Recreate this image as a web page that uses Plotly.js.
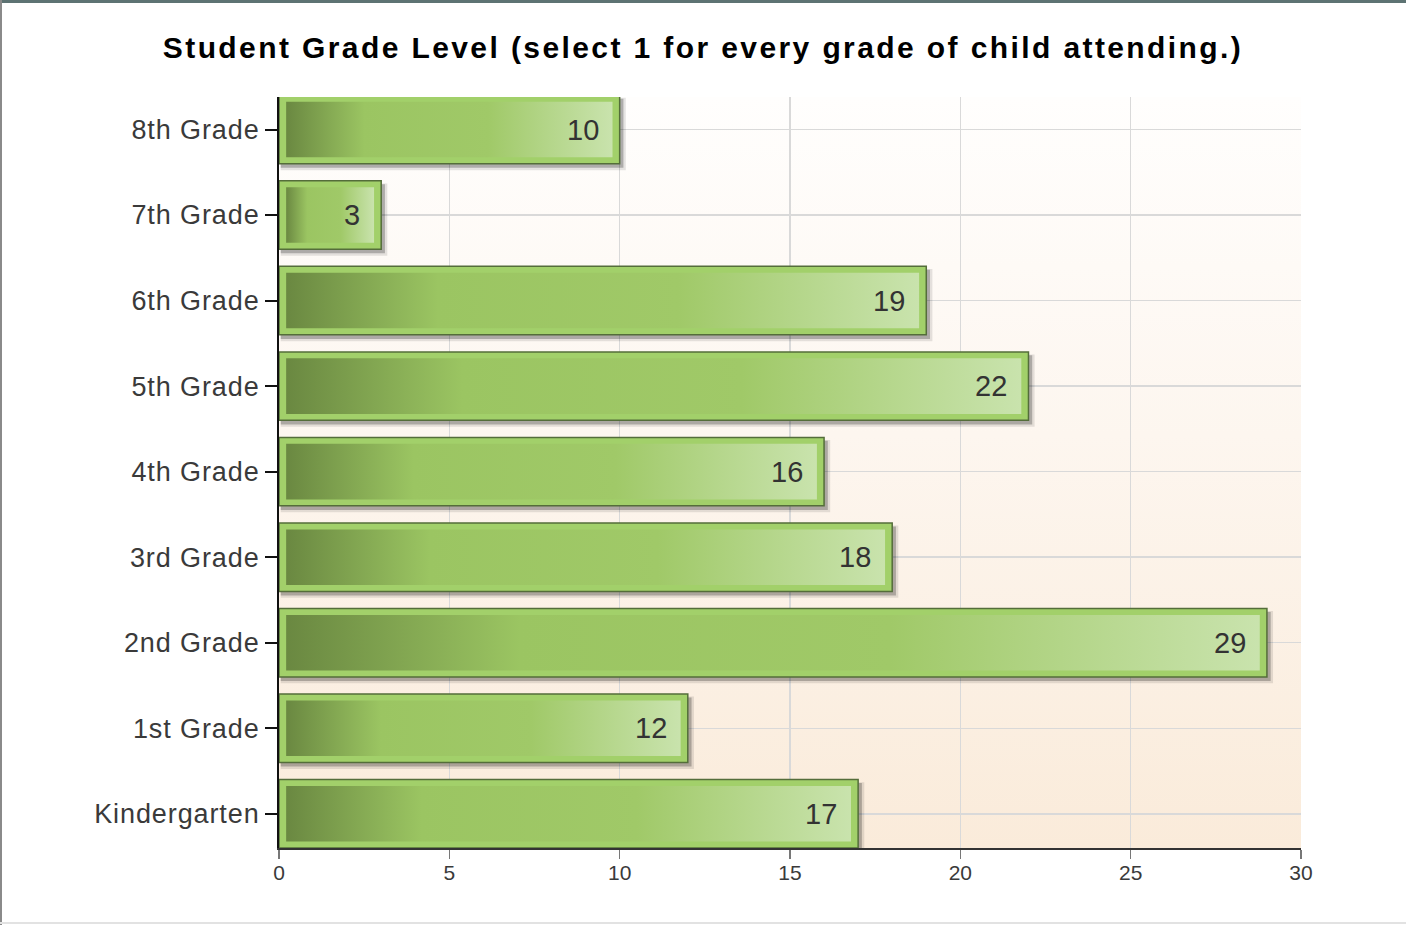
<!DOCTYPE html>
<html>
<head>
<meta charset="utf-8">
<script src="https://cdn.plot.ly/plotly-3.0.1.min.js"></script>
<style>
  html, body { margin: 0; padding: 0; background: #ffffff; }
  #wrap { position: relative; width: 1406px; height: 925px; overflow: hidden; background: #ffffff; }
  #bg { position: absolute; left: 279px; top: 97px; width: 1022px; height: 751px;
        background: linear-gradient(to bottom, #fffefd 0%, #fdf6ef 45%, #faebda 100%); }
  #chart { position: absolute; left: 0; top: 0; width: 1406px; height: 925px; }
  #chart .gtitle { letter-spacing: 2.4px; }
  #chart .ytick text { letter-spacing: 0.9px; }
  .bt { position: absolute; left: 0; top: 0; width: 1406px; height: 3px; background: #5d7373; }
  .bl { position: absolute; left: 0; top: 0; width: 2px; height: 925px; background: #8a8a8a; }
  .bb { position: absolute; left: 0; top: 922px; width: 1406px; height: 2px; background: #e2e2e2; }
</style>
</head>
<body>
<div id="wrap">
  <div id="bg"></div>
  <div id="chart"></div>
  <div class="bt"></div>
  <div class="bl"></div>
  <div class="bb"></div>
</div>
<script>
// ---- data (bottom to top) ----
const categories = ["Kindergarten", "1st Grade", "2nd Grade", "3rd Grade", "4th Grade",
                    "5th Grade", "6th Grade", "7th Grade", "8th Grade"];
const counts = [17, 12, 29, 18, 16, 22, 19, 3, 10];
const xTickValues = [0, 5, 10, 15, 20, 25, 30];
const chartTitle = "Student Grade Level (select 1 for every grade of child attending.)";

// ---- styling constants ----
const barWidth = 0.8;
const insetX = 0.21;   // inner gradient inset (x units)
const insetY = 0.075;  // inner gradient inset (y units)
const idx = categories.map((c, i) => i);

const traces = [];

// outer bar (light rim + dark outline)
traces.push({
  type: "bar",
  orientation: "h",
  x: counts,
  y: idx,
  width: barWidth,
  marker: { color: "#a2d06a", line: { color: "#546d3a", width: 1.5 } },
  hoverinfo: "skip",
  showlegend: false
});

// inner gradient panels
counts.forEach((v, i) => {
  const x0 = insetX, x1 = v - insetX;
  const y0 = i - barWidth / 2 + insetY, y1 = i + barWidth / 2 - insetY;
  traces.push({
    type: "scatter",
    mode: "lines",
    x: [x0, x1, x1, x0, x0],
    y: [y0, y0, y1, y1, y0],
    fill: "toself",
    line: { width: 0, color: "rgba(0,0,0,0)" },
    fillgradient: {
      type: "horizontal",
      colorscale: [[0, "#6a8841"], [0.24, "#9bc562"], [0.62, "#a0c968"], [1, "#c9e3ad"]]
    },
    hoverinfo: "skip",
    showlegend: false
  });
});

// drop shadows (between grid and traces)
const shapes = [];
counts.forEach((v, i) => {
  shapes.push({
    type: "rect", layer: "between", xref: "x", yref: "y",
    x0: 0.05, x1: v + 0.18, y0: i - barWidth / 2 - 0.075, y1: i + barWidth / 2 - 0.03,
    fillcolor: "rgba(0,0,0,0.10)", line: { width: 0 }
  });
  shapes.push({
    type: "rect", layer: "between", xref: "x", yref: "y",
    x0: 0.05, x1: v + 0.11, y0: i - barWidth / 2 - 0.048, y1: i + barWidth / 2 - 0.04,
    fillcolor: "rgba(0,0,0,0.24)", line: { width: 0 }
  });
});

// value labels
const annotations = counts.map((v, i) => ({
  x: v, y: i, xref: "x", yref: "y",
  text: String(v), showarrow: false,
  xanchor: "right", yanchor: "middle", xshift: -19,
  font: { family: "Liberation Sans, Arial, sans-serif", size: 29, color: "#333333" }
}));

const layout = {
  width: 1406, height: 925,
  margin: { l: 279, r: 105, t: 97, b: 77 },
  paper_bgcolor: "rgba(0,0,0,0)",
  plot_bgcolor: "rgba(0,0,0,0)",
  title: {
    text: chartTitle,
    x: 0.5, xref: "container", xanchor: "center",
    y: 1 - 47 / 925, yref: "container", yanchor: "middle",
    font: { family: "Liberation Sans, Arial, sans-serif", size: 30, color: "#000000", weight: "bold" }
  },
  xaxis: {
    range: [0, 30],
    tickvals: xTickValues,
    ticktext: xTickValues.map(String),
    showgrid: true, gridcolor: "#d9d9d9", gridwidth: 1.5,
    zeroline: false,
    showline: true, linecolor: "#333333", linewidth: 2,
    ticks: "outside", ticklen: 9, tickwidth: 1.5, tickcolor: "#777777",
    ticklabelstandoff: -4,
    tickfont: { family: "Liberation Sans, Arial, sans-serif", size: 21, color: "#3a3a3a" },
    fixedrange: true
  },
  yaxis: {
    type: "linear",
    range: [-0.4, 8.38],
    tickvals: idx,
    ticktext: categories,
    showgrid: true, gridcolor: "#d9d9d9", gridwidth: 1.5,
    zeroline: false,
    showline: true, linecolor: "#111111", linewidth: 2,
    ticks: "outside", ticklen: 12, tickwidth: 2, tickcolor: "#111111",
    tickfont: { family: "Liberation Sans, Arial, sans-serif", size: 27, color: "#3a3a3a" },
    fixedrange: true
  },
  shapes: shapes,
  annotations: annotations,
  showlegend: false,
  bargap: 0.2
};

Plotly.newPlot("chart", traces, layout, { displayModeBar: false, staticPlot: true });
</script>
</body>
</html>
